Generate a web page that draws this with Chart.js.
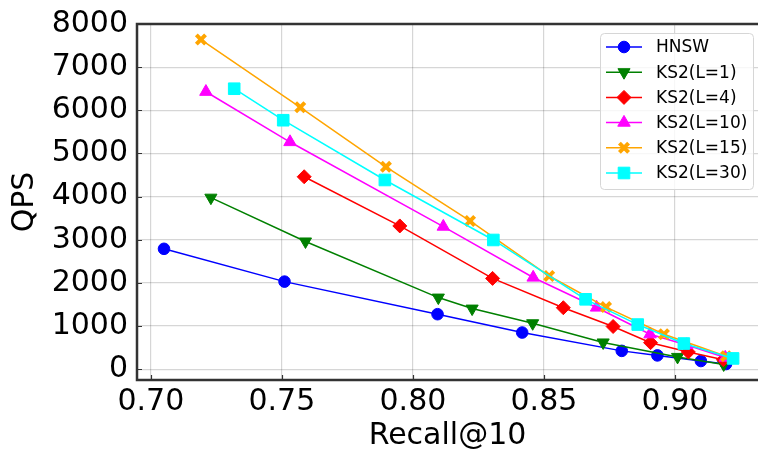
<!DOCTYPE html>
<html>
<head>
<meta charset="utf-8">
<script src="https://cdn.jsdelivr.net/npm/chart.js@4.4.0/dist/chart.umd.min.js"></script>
<style>
  html, body { margin: 0; padding: 0; background: #fff; }
</style>
</head>
<body>
<canvas id="myChart" width="758" height="453"></canvas>
<script>
// data
const seriesNames = ["HNSW", "KS2(L=1)", "KS2(L=4)", "KS2(L=10)", "KS2(L=15)", "KS2(L=30)"];

const hnswRecall = [0.705, 0.751, 0.8094, 0.8417, 0.8797, 0.8933, 0.9099, 0.9195];
const hnswQps = [2790, 2030, 1275, 850, 425, 320, 190, 120];

const l1Recall = [0.7229, 0.759, 0.8097, 0.8226, 0.8457, 0.8726, 0.901, 0.9186];
const l1Qps = [3975, 2960, 1660, 1405, 1065, 620, 285, 110];

const l4Recall = [0.7585, 0.795, 0.8304, 0.8574, 0.8764, 0.8907, 0.9051, 0.9185];
const l4Qps = [4460, 3320, 2105, 1425, 990, 615, 400, 220];

const l10Recall = [0.721, 0.7531, 0.8116, 0.8459, 0.8701, 0.8905, 0.9045, 0.9192];
const l10Qps = [6430, 5265, 3305, 2125, 1430, 810, 560, 270];

const l15Recall = [0.7191, 0.757, 0.7897, 0.8218, 0.852, 0.8737, 0.8958, 0.9195];
const l15Qps = [7640, 6070, 4690, 3435, 2160, 1440, 810, 300];

const l30Recall = [0.7318, 0.7505, 0.7893, 0.8307, 0.8659, 0.8858, 0.9034, 0.9222];
const l30Qps = [6500, 5770, 4385, 2995, 1620, 1035, 595, 250];

const xTicks = [0.70, 0.75, 0.80, 0.85, 0.90];
const yTicks = [0, 1000, 2000, 3000, 4000, 5000, 6000, 7000, 8000];

const allRecall = [hnswRecall, l1Recall, l4Recall, l10Recall, l15Recall, l30Recall];
const allQps = [hnswQps, l1Qps, l4Qps, l10Qps, l15Qps, l30Qps];

// marker styles, matplotlib-ish
const styles = [
  { color: "#0000ff", pointStyle: "circle", radius: 5.8, rotation: 0, pbw: 1 },
  { color: "#008000", pointStyle: "triangle", radius: 7, rotation: 180, pbw: 1 },
  { color: "#ff0000", pointStyle: "rectRot", radius: 7, rotation: 0, pbw: 1 },
  { color: "#ff00ff", pointStyle: "triangle", radius: 7.2, rotation: 0, pbw: 1 },
  { color: "#ffa500", pointStyle: "crossRot", radius: 6.5, rotation: 0, pbw: 4 },
  { color: "#00ffff", pointStyle: "rect", radius: 8.2, rotation: 0, pbw: 1 },
];

const FONT = "'DejaVu Sans', sans-serif";

function pts(xs, ys) {
  return xs.map((x, i) => ({ x: x, y: ys[i] }));
}

const datasets = seriesNames.map((name, i) => {
  const s = styles[i];
  return {
    label: name,
    data: pts(allRecall[i], allQps[i]),
    showLine: true,
    borderColor: s.color,
    backgroundColor: s.color,
    borderWidth: 1.5,
    pointStyle: s.pointStyle,
    pointRadius: s.radius,
    pointHoverRadius: s.radius,
    pointRotation: s.rotation,
    pointBorderWidth: s.pbw,
    pointBorderColor: s.color,
    pointBackgroundColor: s.color,
    order: seriesNames.length - i,
  };
});

// spines + inward ticks
const framePlugin = {
  id: "frame",
  afterDatasetsDraw(chart) {
    const { ctx, chartArea: a, scales } = chart;
    ctx.save();
    ctx.strokeStyle = "#333";
    ctx.lineWidth = 1.2;
    ctx.beginPath();
    xTicks.forEach((v) => {
      const px = Math.round(scales.x.getPixelForValue(v)) + 0.5;
      ctx.moveTo(px, a.bottom);
      ctx.lineTo(px, a.bottom - 5);
    });
    yTicks.forEach((v) => {
      const py = Math.round(scales.y.getPixelForValue(v)) + 0.5;
      ctx.moveTo(a.left, py);
      ctx.lineTo(a.left + 5, py);
    });
    ctx.stroke();
    ctx.lineWidth = 2.5;
    ctx.beginPath();
    ctx.moveTo(a.right, a.top);
    ctx.lineTo(a.left, a.top);
    ctx.lineTo(a.left, a.bottom);
    ctx.lineTo(a.right, a.bottom);
    ctx.stroke();
    ctx.restore();
  },
};

// legend box in the upper right, line + marker like matplotlib
const legendPlugin = {
  id: "boxLegend",
  afterDraw(chart) {
    const ctx = chart.ctx;
    const bx = 600.5, by = 33.5, bw = 153, bh = 156;
    ctx.save();
    ctx.beginPath();
    ctx.roundRect(bx, by, bw, bh, 4);
    ctx.fillStyle = "rgba(255,255,255,0.8)";
    ctx.fill();
    ctx.strokeStyle = "#d6d6d6";
    ctx.lineWidth = 1;
    ctx.stroke();

    chart.data.datasets.forEach((ds, i) => {
      const y = 47 + i * 25.2;
      ctx.strokeStyle = ds.borderColor;
      ctx.lineWidth = 1.5;
      ctx.beginPath();
      ctx.moveTo(606, y);
      ctx.lineTo(642, y);
      ctx.stroke();
      ctx.fillStyle = ds.pointBackgroundColor;
      ctx.lineWidth = ds.pointBorderWidth;
      Chart.helpers.drawPoint(ctx, {
        pointStyle: ds.pointStyle,
        radius: ds.pointRadius,
        rotation: ds.pointRotation,
        borderWidth: ds.pointBorderWidth,
      }, 624, y);
      ctx.fillStyle = "#000";
      ctx.font = "17px " + FONT;
      ctx.textBaseline = "middle";
      ctx.textAlign = "left";
      ctx.fillText(ds.label, 656, y + 1);
    });
    ctx.restore();
  },
};

const ctx = document.getElementById("myChart").getContext("2d");
new Chart(ctx, {
  type: "scatter",
  data: { datasets: datasets },
  options: {
    responsive: false,
    animation: false,
    layout: { autoPadding: false, padding: { top: 24, right: 0, bottom: 0, left: 0 } },
    plugins: { legend: { display: false }, tooltip: { enabled: false } },
    scales: {
      x: {
        type: "linear",
        min: 0.6947,
        max: 0.9317,
        afterBuildTicks: (scale) => {
          scale.ticks = xTicks.map((v) => ({ value: v }));
        },
        afterFit: (scale) => {
          scale.height = 73;
          scale.paddingLeft = 0;
          scale.paddingRight = 0;
        },
        grid: { color: "rgba(0,0,0,0.16)", lineWidth: 1.2, drawTicks: false },
        border: { display: false },
        ticks: {
          padding: 4,
          color: "#000",
          font: { family: FONT, size: 30 },
          maxRotation: 0,
          callback: (v) => Number(v).toFixed(2),
        },
        title: {
          display: true,
          text: "Recall@10",
          color: "#000",
          font: { family: FONT, size: 30, lineHeight: 1.1 },
          padding: { top: 0, bottom: 0 },
        },
      },
      y: {
        type: "linear",
        min: -250,
        max: 8000,
        afterBuildTicks: (scale) => {
          scale.ticks = yTicks.map((v) => ({ value: v }));
        },
        afterFit: (scale) => {
          scale.width = 137;
          scale.paddingTop = 0;
          scale.paddingBottom = 0;
        },
        grid: { color: "rgba(0,0,0,0.16)", lineWidth: 1.2, drawTicks: false },
        border: { display: false },
        ticks: {
          padding: 9,
          color: "#000",
          font: { family: FONT, size: 30 },
          callback: (v) => String(v),
        },
        title: {
          display: true,
          text: "QPS",
          color: "#000",
          font: { family: FONT, size: 30 },
          padding: { top: 7, bottom: 0 },
        },
      },
    },
  },
  plugins: [framePlugin, legendPlugin],
});
</script>
</body>
</html>
